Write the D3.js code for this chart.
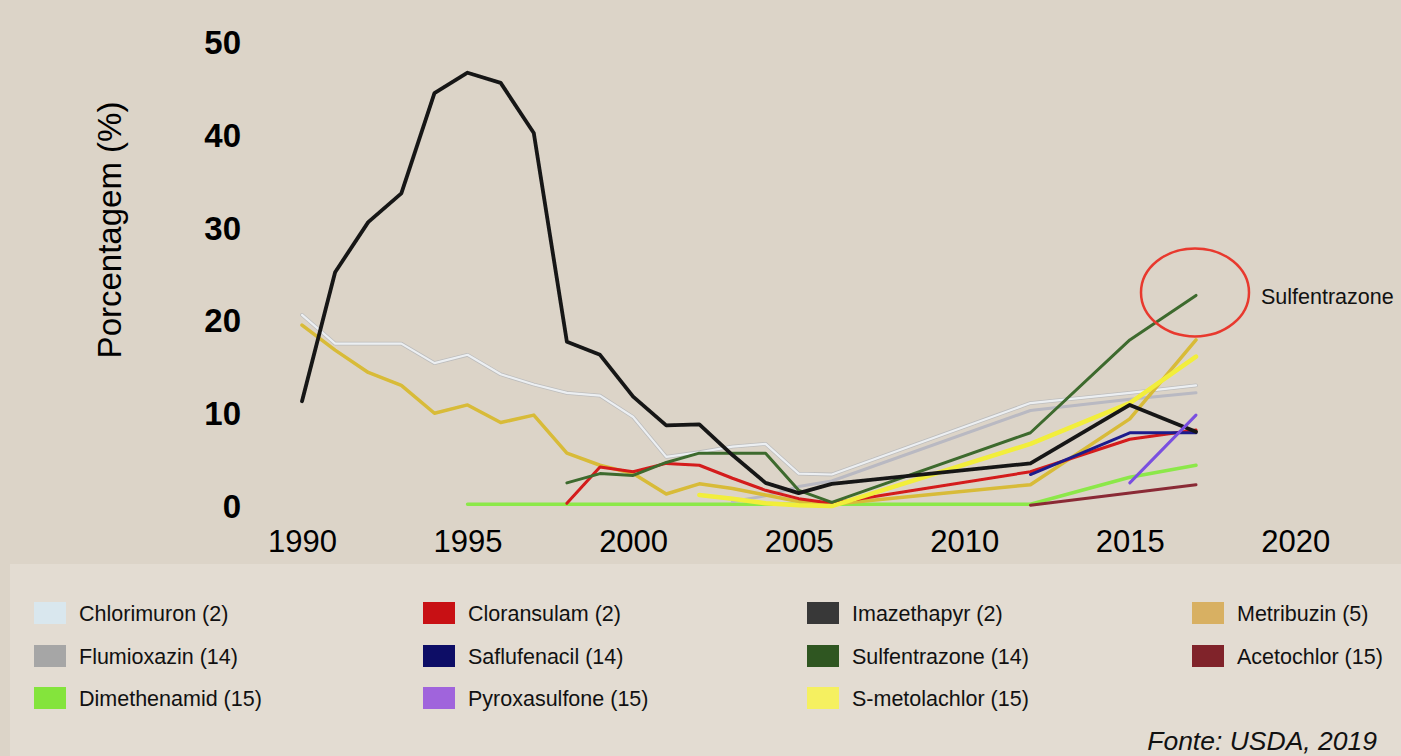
<!DOCTYPE html>
<html lang="pt">
<head>
<meta charset="UTF-8">
<title>Porcentagem de uso de herbicidas</title>
<script src="https://d3js.org/d3.v7.min.js"></script>
<style>
    body {
        margin: 0;
        padding: 0;
        background: #dcd4c8;
        font-family: 'Liberation Sans', Arial, Helvetica, sans-serif;
    }
    svg { display: block; }
    .tick line { display: none; }
    .domain { display: none; }
    .y-axis text { font-size: 33px; font-weight: bold; fill: #000; }
    .x-axis text { font-size: 31px; fill: #000; }
    .legend text { font-size: 21.5px; fill: #111; }
</style>
</head>
<body>
<svg width="1401" height="756"></svg>
<script>
// survey years (the line points)
const years = [1990, 1991, 1992, 1993, 1994, 1995, 1996, 1997, 1998, 1999,
               2000, 2001, 2002, 2003, 2004, 2005, 2006, 2012, 2015, 2017];

// % of area treated (null = not reported)
const chlorimuron   = [20.7, 17.6, 17.6, 17.6, 15.5, 16.4, 14.3, 13.2, 12.3, 12.0, 9.7, 5.4, 5.9, 6.5, 6.8, 3.6, 3.5, 11.2, 12.3, 13.1];
const flumioxazin   = [null, null, null, null, null, null, null, null, null, null, null, null, null, 0.6, 1.2, 2.2, 2.8, 10.4, 11.6, 12.3];
const metribuzin    = [19.6, 16.9, 14.5, 13.1, 10.1, 11.0, 9.1, 9.9, 5.8, 4.5, 3.6, 1.4, 2.5, 2.0, 1.3, 0.6, 0.3, 2.4, 9.5, 18.0];
const dimethenamid  = [null, null, null, null, null, 0.3, 0.3, 0.3, 0.3, 0.3, 0.3, 0.3, 0.3, 0.3, 0.3, 0.3, 0.3, 0.3, 3.2, 4.5];
const acetochlor    = [null, null, null, null, null, null, null, null, null, null, null, null, null, null, null, null, null, 0.2, 1.5, 2.4];
const cloransulam   = [null, null, null, null, null, null, null, null, 0.4, 4.3, 3.8, 4.7, 4.5, 3.1, 1.8, 0.9, 0.4, 3.8, 7.3, 8.3];
const saflufenacil  = [null, null, null, null, null, null, null, null, null, null, null, null, null, null, null, null, null, 3.5, 8.0, 8.0];
const pyroxasulfone = [null, null, null, null, null, null, null, null, null, null, null, null, null, null, null, null, null, null, 2.6, 9.9];
const smetolachlor  = [null, null, null, null, null, null, null, null, null, null, null, null, 1.3, 0.9, 0.4, 0.2, 0.1, 6.8, 11.2, 16.2];
const sulfentrazone = [null, null, null, null, null, null, null, null, 2.6, 3.6, 3.4, 4.8, 5.8, 5.8, 5.8, 1.8, 0.5, 8.0, 18.0, 22.8];
const imazethapyr   = [11.4, 25.3, 30.7, 33.8, 44.6, 46.8, 45.7, 40.3, 17.8, 16.4, 11.9, 8.8, 8.9, 5.6, 2.6, 1.5, 2.5, 4.7, 11.0, 8.1];

const yTicks = [0, 10, 20, 30, 40, 50];
const xTicks = [1990, 1995, 2000, 2005, 2010, 2015, 2020];

const legendNames = ["Chlorimuron (2)", "Cloransulam (2)", "Imazethapyr (2)", "Metribuzin (5)",
                     "Flumioxazin (14)", "Saflufenacil (14)", "Sulfentrazone (14)", "Acetochlor (15)",
                     "Dimethenamid (15)", "Pyroxasulfone (15)", "S-metolachlor (15)"];
const legendColors = ["#d9e7ee", "#c81014", "#383838", "#d8b062",
                      "#a6a6a6", "#0d0d66", "#2f5621", "#80232a",
                      "#84e43c", "#a064dc", "#f5f060"];

// drawing order, back to front
const series = [
    { name: "Dimethenamid", values: dimethenamid, color: "#8ce84a", width: 3.5 },
    { name: "Acetochlor", values: acetochlor, color: "#8a2a36", width: 3 },
    { name: "Flumioxazin", values: flumioxazin, color: "#b9b9c2", width: 3 },
    { name: "Chlorimuron", values: chlorimuron, color: "#eceff2", width: 2.2, under: "#bdbdbd" },
    { name: "Metribuzin", values: metribuzin, color: "#d8bb38", width: 3.5 },
    { name: "Cloransulam", values: cloransulam, color: "#d41a1a", width: 3 },
    { name: "Saflufenacil", values: saflufenacil, color: "#1c1c8c", width: 3 },
    { name: "S-metolachlor", values: smetolachlor, color: "#f2ee3a", width: 4.5 },
    { name: "Sulfentrazone", values: sulfentrazone, color: "#3d6a2d", width: 3 },
    { name: "Imazethapyr", values: imazethapyr, color: "#161616", width: 3.8 },
    { name: "Pyroxasulfone", values: pyroxasulfone, color: "#7a4fe0", width: 3 }
];

const svg = d3.select("svg");

// soft look of the original raster
svg.append("defs").append("filter")
    .attr("id", "soft")
    .append("feGaussianBlur")
    .attr("stdDeviation", 0.45);

// lower panel
svg.append("rect")
    .attr("x", 10).attr("y", 564)
    .attr("width", 1391).attr("height", 192)
    .attr("fill", "#e3dcd2");

const x = d3.scaleLinear().domain([1990, 2017]).range([302, 1196]);
const y = d3.scaleLinear().domain([0, 50]).range([507, 43]);

svg.append("g")
    .attr("class", "y-axis")
    .attr("transform", "translate(250,0)")
    .call(d3.axisLeft(y).tickValues(yTicks).tickSize(0).tickPadding(9));

svg.append("g")
    .attr("class", "x-axis")
    .attr("transform", "translate(0,507)")
    .call(d3.axisBottom(x).tickValues(xTicks).tickFormat(d3.format("d")).tickSize(0).tickPadding(23));

svg.append("text")
    .attr("transform", "translate(121,230) rotate(-90)")
    .attr("text-anchor", "middle")
    .attr("font-size", 33)
    .attr("fill", "#000")
    .text("Porcentagem (%)");

const line = d3.line()
    .defined(d => d.v !== null)
    .x(d => x(d.year))
    .y(d => y(d.v));

const lines = svg.append("g")
    .attr("fill", "none")
    .attr("stroke-linejoin", "round")
    .attr("stroke-linecap", "round")
    .attr("filter", "url(#soft)");

series.forEach(s => {
    const pts = years.map((yr, i) => ({ year: yr, v: s.values[i] }));
    if (s.under) {
        lines.append("path")
            .attr("d", line(pts))
            .attr("stroke", s.under)
            .attr("stroke-width", s.width + 1.6);
    }
    lines.append("path")
        .attr("d", line(pts))
        .attr("stroke", s.color)
        .attr("stroke-width", s.width);
});

// highlight on Sulfentrazone
const last = years.length - 1;
svg.append("ellipse")
    .attr("cx", x(years[last]) - 1)
    .attr("cy", y(sulfentrazone[last]) - 3)
    .attr("rx", 54)
    .attr("ry", 44)
    .attr("fill", "none")
    .attr("stroke", "#e8392e")
    .attr("stroke-width", 2.5);

svg.append("text")
    .attr("x", 1261)
    .attr("y", 304)
    .attr("font-size", 21.5)
    .attr("fill", "#111")
    .text("Sulfentrazone");

// legend
const colX = [34, 423, 807, 1192];
const rowY = [602, 645, 687];
const legend = svg.append("g").attr("class", "legend");
legendNames.forEach((name, i) => {
    const gx = colX[i % 4], gy = rowY[Math.floor(i / 4)];
    legend.append("rect")
        .attr("x", gx).attr("y", gy)
        .attr("width", 32).attr("height", 22)
        .attr("fill", legendColors[i]);
    legend.append("text")
        .attr("x", gx + 45)
        .attr("y", gy + 11)
        .attr("dy", "0.36em")
        .text(name);
});

svg.append("text")
    .attr("x", 1377)
    .attr("y", 750)
    .attr("text-anchor", "end")
    .attr("font-size", 26.5)
    .attr("font-style", "italic")
    .attr("fill", "#111")
    .text("Fonte: USDA, 2019");
</script>
</body>
</html>
